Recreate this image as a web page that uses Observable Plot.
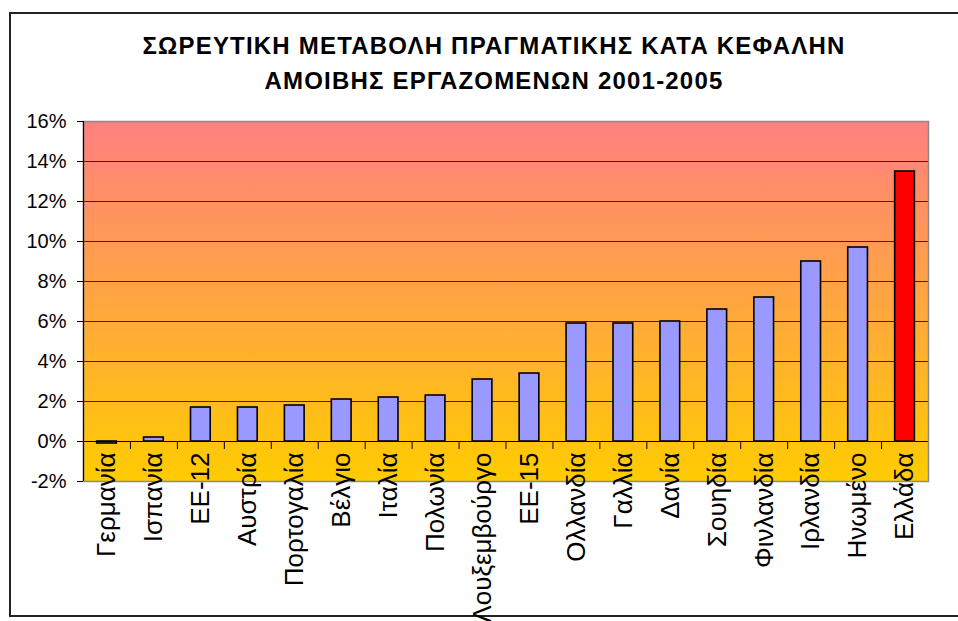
<!DOCTYPE html>
<html><head><meta charset="utf-8">
<script src="https://cdn.jsdelivr.net/npm/d3@7"></script>
<script src="https://cdn.jsdelivr.net/npm/@observablehq/plot@0.6"></script>
<style>
body{margin:0;background:#fff;overflow:hidden}
#wrap{position:relative;width:958px;height:621px;overflow:hidden}
#border{position:absolute;left:9px;top:12px;width:1000px;height:601px;border:2px solid #222;border-right:none}
#wrap svg{position:absolute;left:0;top:0;overflow:visible}
.ttl{letter-spacing:1.2px}
</style></head><body><div id="wrap"><div id="border"></div></div>
<script>
const categories = ["Γερμανία","Ισπανία","ΕΕ-12","Αυστρία","Πορτογαλία","Βέλγιο","Ιταλία","Πολωνία","Λουξεμβούργο","ΕΕ-15","Ολλανδία","Γαλλία","Δανία","Σουηδία","Φινλανδία","Ιρλανδία","Ηνωμένο","Ελλάδα"];
const values = [-0.1,0.2,1.7,1.7,1.8,2.1,2.2,2.3,3.1,3.4,5.9,5.9,6.0,6.6,7.2,9.0,9.7,13.5];
const yTicks = [-2,0,2,4,6,8,10,12,14,16];
const titleLines = ["ΣΩΡΕΥΤΙΚΗ ΜΕΤΑΒΟΛΗ ΠΡΑΓΜΑΤΙΚΗΣ ΚΑΤΑ ΚΕΦΑΛΗΝ","ΑΜΟΙΒΗΣ ΕΡΓΑΖΟΜΕΝΩΝ 2001-2005"];
const highlight = "Ελλάδα";

const data = categories.map((name, i) => ({name, value: values[i]}));
const W = 958, H = 621, mL = 83, mR = 30, mT = 121, mB = 140;
const step = (W - mL - mR) / categories.length;
const font = "'Liberation Sans', Arial, sans-serif";

const chart = Plot.plot({
  width: W, height: H,
  marginLeft: mL, marginRight: mR, marginTop: mT, marginBottom: mB,
  style: {fontFamily: font, background: "transparent", color: "#000"},
  x: {domain: categories, padding: 0.58, paddingOuter: 0.29, round: false, axis: null},
  y: {domain: [-2, 16], axis: null},
  color: {type: "identity"},
  marks: [
    Plot.frame({fill: "url(#bgGrad)"}),
    Plot.ruleY(yTicks.filter(d => d > 0 && d < 16), {stroke: "#2a2a2a", strokeWidth: 1}),
    Plot.barY(data, {x: "name", y: "value", fill: d => d.name === highlight ? "#FF0000" : "#9999FF", stroke: "#000", strokeWidth: 1.6}),
    Plot.ruleY([0], {stroke: "#000", strokeWidth: 1}),
    Plot.ruleX(categories, {x: d => d, y1: 0, y2: 0, dx: -step / 2, insetBottom: -8, stroke: "#000"}),
    Plot.ruleX([categories[categories.length - 1]], {x: d => d, y1: 0, y2: 0, dx: step / 2, insetBottom: -8, stroke: "#000"}),
    Plot.frame({stroke: "#8a8a8a", strokeWidth: 1.5}),
    Plot.ruleX([categories[0]], {x: d => d, dx: -step / 2, stroke: "#000", strokeWidth: 1.2}),
    Plot.axisY(yTicks, {label: null, tickFormat: d => d + "%", tickSize: 6, tickPadding: 11, fontSize: 20}),
    Plot.text(categories, {x: d => d, y: 0, dy: 11, rotate: -90, textAnchor: "end", lineAnchor: "middle", fontSize: 26, fill: "#000"}),
    Plot.text([titleLines[0]], {frameAnchor: "top", dy: -68, dx: -12, lineAnchor: "bottom", fontSize: 24, fontWeight: "bold", fill: "#000", className: "ttl"}),
    Plot.text([titleLines[1]], {frameAnchor: "top", dy: -33, dx: -12, lineAnchor: "bottom", fontSize: 24, fontWeight: "bold", fill: "#000", className: "ttl"})
  ]
});

const ns = "http://www.w3.org/2000/svg";
const defs = document.createElementNS(ns, "defs");
defs.innerHTML = '<linearGradient id="bgGrad" x1="0" y1="0" x2="0" y2="1"><stop offset="0" stop-color="#FF8080"/><stop offset="1" stop-color="#FFCC00"/></linearGradient>';
chart.insertBefore(defs, chart.firstChild);
document.getElementById("wrap").appendChild(chart);
</script></body></html>
